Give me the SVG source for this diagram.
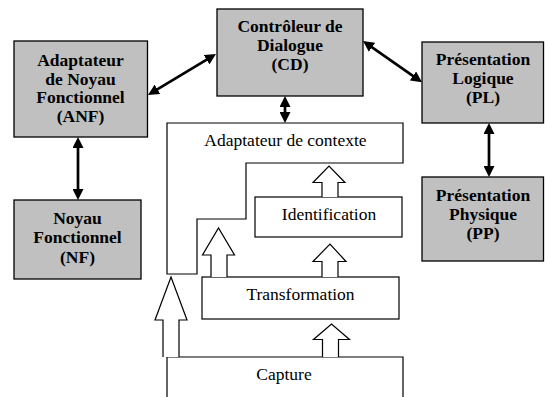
<svg xmlns="http://www.w3.org/2000/svg" width="545" height="397" viewBox="0 0 545 397">
  <style>
    .comp { fill: #c0c0c0; stroke: #000; stroke-width: 1.3; }
    .layer { fill: #fff; stroke: #000; stroke-width: 1.2; }
    .flow { fill: #fff; stroke: #000; stroke-width: 1.2; stroke-linejoin: miter; }
    text { font-family: 'Liberation Serif', 'DejaVu Serif', serif; font-size: 17.5px; text-anchor: middle; fill: #000; }
    .bold { font-weight: bold; }
    .link { stroke: #000; stroke-width: 2.7; fill: none; marker-start: url(#head); marker-end: url(#head); }
  </style>
  <defs>
    <marker id="head" viewBox="0 0 11 11" refX="6" refY="5.5" markerWidth="11" markerHeight="11" markerUnits="userSpaceOnUse" orient="auto-start-reverse">
      <path d="M0,0 L11,5.5 L0,11 z" fill="#000"/>
    </marker>
  </defs>
  <rect width="545" height="397" fill="#fff"/>

  <!-- Arch components -->
  <g id="anf">
    <rect class="comp" x="14" y="41" width="133.5" height="96"/>
    <text class="bold" x="80.5" y="66">Adaptateur</text>
    <text class="bold" x="80.5" y="84.5">de Noyau</text>
    <text class="bold" x="80.5" y="103">Fonctionnel</text>
    <text class="bold" x="80.5" y="121.5">(ANF)</text>
  </g>
  <g id="cd">
    <rect class="comp" x="217" y="9" width="146" height="87"/>
    <text class="bold" x="290" y="32">Contrôleur de</text>
    <text class="bold" x="290" y="51">Dialogue</text>
    <text class="bold" x="290" y="70">(CD)</text>
  </g>
  <g id="pl">
    <rect class="comp" x="422" y="42" width="121.5" height="81"/>
    <text class="bold" x="483" y="65">Présentation</text>
    <text class="bold" x="483" y="84">Logique</text>
    <text class="bold" x="483" y="103">(PL)</text>
  </g>
  <g id="pp">
    <rect class="comp" x="422" y="177" width="121.5" height="84"/>
    <text class="bold" x="483" y="201">Présentation</text>
    <text class="bold" x="483" y="220">Physique</text>
    <text class="bold" x="483" y="239">(PP)</text>
  </g>
  <g id="nf">
    <rect class="comp" x="14" y="200" width="127" height="79"/>
    <text class="bold" x="77.5" y="223.5">Noyau</text>
    <text class="bold" x="77.5" y="243">Fonctionnel</text>
    <text class="bold" x="77.5" y="262.5">(NF)</text>
  </g>

  <!-- Context adaptor layers -->
  <g id="adaptateur">
    <path class="layer" d="M167,123 H403 V163 H246 V219 H197 V274 H167 Z"/>
    <text x="285.5" y="146">Adaptateur de contexte</text>
  </g>
  <g id="identification">
    <rect class="layer" x="255" y="197" width="147" height="40"/>
    <text x="329" y="220">Identification</text>
  </g>
  <g id="transformation">
    <rect class="layer" x="202" y="277" width="197" height="42"/>
    <text x="300.5" y="299.5">Transformation</text>
  </g>
  <g id="capture">
    <path class="layer" d="M167,400 V357 H403 V400"/>
    <text x="284" y="380">Capture</text>
  </g>

  <!-- Connectors -->
  <g id="connectors">
    <path class="link" d="M152.3,92.4 L211.7,56.6"/>
    <path class="link" d="M367.1,43.9 L417.9,79.4"/>
    <path class="link" d="M285,101 V118"/>
    <path class="link" d="M78,142 V195"/>
    <path class="link" d="M489,128 V172"/>

    <path class="flow" d="M163,357 V320 H155 L171,277 L187,320 H179 V357"/>
    <path class="flow" d="M211,277 V255 H202.5 L218.5,228 L234.5,255 H227 V277"/>
    <path class="flow" d="M322.5,357 V339.5 H313.5 L331.5,324 L349.5,339.5 H338.5 V357"/>
    <path class="flow" d="M322,277 V261.5 H313 L330,244 L346,261.5 H338 V277"/>
    <path class="flow" d="M322,197 V182.5 H313 L329,166 L345,182.5 H338 V197"/>
  </g>
</svg>
